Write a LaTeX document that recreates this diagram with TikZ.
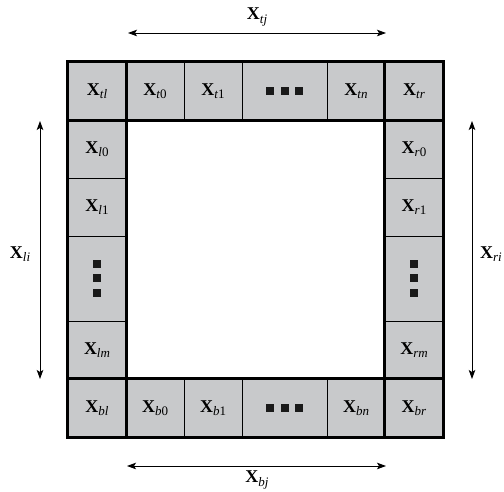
\documentclass[tikz,border=0pt]{standalone}
\usepackage{fontspec}
\setmainfont{Liberation Serif}
\usetikzlibrary{arrows.meta}
\definecolor{cellgray}{RGB}{200,201,203}
\newcommand{\Xs}[1]{\fontsize{18}{20}\selectfont\textbf{X}\raisebox{-3.5pt}{\fontsize{13}{14}\selectfont #1}}
\begin{document}
\begin{tikzpicture}[x=1pt,y=1pt,
  cell/.style={draw=black,line width=0.8pt,fill=cellgray,minimum width=58pt,minimum height=58pt,inner sep=0pt},
  widecell/.style={cell,minimum width=85pt},
  tallcell/.style={cell,minimum height=85pt},
  thickline/.style={line width=2.6pt},
  dim/.style={line width=0.8pt,{Stealth[length=9pt,width=6.5pt,inset=2pt]}-{Stealth[length=9pt,width=6.5pt,inset=2pt]}},
  lbl/.style={inner sep=0pt},
  sq/.style={fill=black!90}]
\useasboundingbox (0,0) rectangle (504,492);
% top row
\node[cell] (tl) at (97,401) {\Xs{\textit{tl}}};
\node[cell] (t0) at (155,401) {\Xs{\textit{t}0}};
\node[cell] (t1) at (213,401) {\Xs{\textit{t}1}};
\node[widecell] (td) at (284.5,401) {};
\node[cell] (tn) at (356,401) {\Xs{\textit{tn}}};
\node[cell] (tr) at (414,401) {\Xs{\textit{tr}}};
% left column
\node[cell] (l0) at (97,343) {\Xs{\textit{l}0}};
\node[cell] (l1) at (97,285) {\Xs{\textit{l}1}};
\node[tallcell] (ld) at (97,213.5) {};
\node[cell] (lm) at (97,142) {\Xs{\textit{lm}}};
% right column
\node[cell] (r0) at (414,343) {\Xs{\textit{r}0}};
\node[cell] (r1) at (414,285) {\Xs{\textit{r}1}};
\node[tallcell] (rd) at (414,213.5) {};
\node[cell] (rm) at (414,142) {\Xs{\textit{rm}}};
% bottom row
\node[cell] (bl) at (97,84) {\Xs{\textit{bl}}};
\node[cell] (b0) at (155,84) {\Xs{\textit{b}0}};
\node[cell] (b1) at (213,84) {\Xs{\textit{b}1}};
\node[widecell] (bd) at (284.5,84) {};
\node[cell] (bn) at (356,84) {\Xs{\textit{bn}}};
\node[cell] (br) at (414,84) {\Xs{\textit{br}}};
% dots
\foreach \n in {td,bd}{
  \foreach \d in {-14.7,0,14.7}{
    \fill[sq] ([xshift=\d pt]\n.center) +(-4,-4) rectangle +(4,4);
  }
}
\foreach \n in {ld,rd}{
  \foreach \d in {-14.7,0,14.7}{
    \fill[sq] ([yshift=\d pt]\n.center) +(-4,-4) rectangle +(4,4);
  }
}
% thick frame
\draw[thickline] (tl.north west) rectangle (br.south east);
\draw[thickline] (tl.south west) -- (tr.south east);
\draw[thickline] (bl.north west) -- (br.north east);
\draw[thickline] (tl.north east) -- (bl.south east);
\draw[thickline] (tr.north west) -- (br.south west);
% dimension arrows
\coordinate (ta) at (128,459);
\coordinate (tb) at (386,459);
\coordinate (ba) at (127,26);
\coordinate (bb) at (386,26);
\coordinate (la) at (40,371);
\coordinate (lb) at (40,113);
\coordinate (ra) at (472,371);
\coordinate (rb) at (472,113);
\draw[dim] (ta) -- (tb);
\draw[dim] (ba) -- (bb);
\draw[dim] (la) -- (lb);
\draw[dim] (ra) -- (rb);
\node[lbl,anchor=base] (ltj) at (257,472) {\Xs{\textit{tj}}};
\node[lbl,anchor=base] (lbj) at (257,9) {\Xs{\textit{bj}}};
\node[lbl] (lli) at (20,238) {\Xs{\textit{li}}};
\node[lbl] (lri) at (491,238) {\Xs{\textit{ri}}};
\end{tikzpicture}
\end{document}
